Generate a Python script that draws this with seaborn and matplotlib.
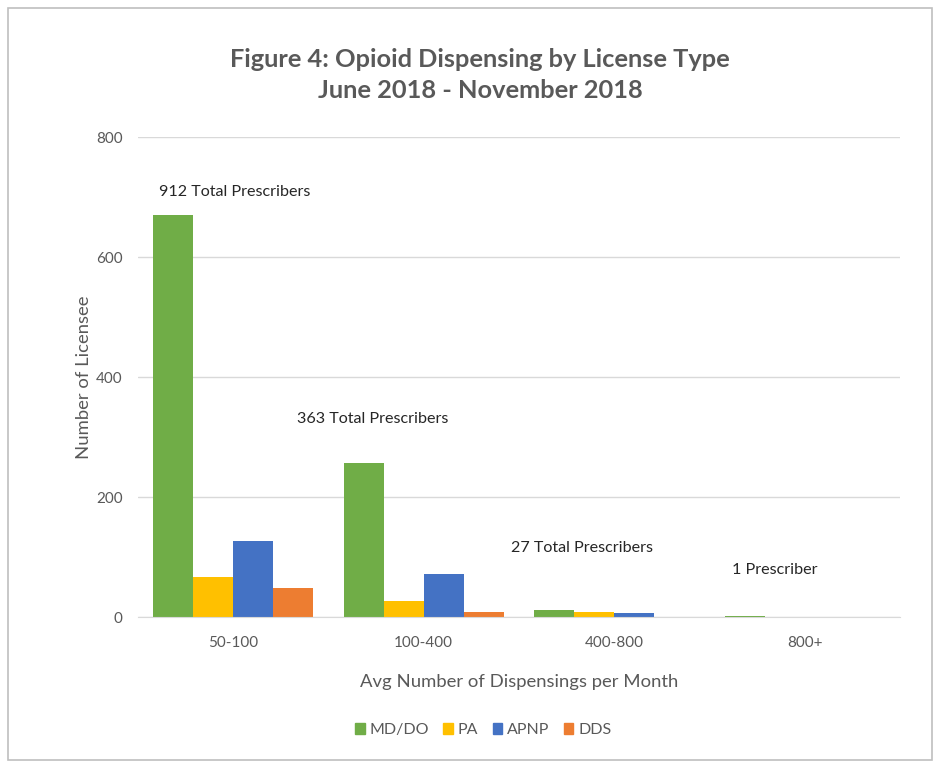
import pandas as pd
import matplotlib.pyplot as plt
import matplotlib.patches as mpatches
import seaborn as sns

# Values
dispensing_bins = ['50-100', '100-400', '400-800', '800+']
license_types = ['MD/DO', 'PA', 'APNP', 'DDS']
md_do = [670, 257, 12, 1]
pa = [67, 26, 9, 0]
apnp = [126, 71, 6, 0]
dds = [49, 9, 0, 0]
total_labels = ['912 Total Prescribers', '363 Total Prescribers',
                '27 Total Prescribers', '1 Prescriber']
label_heights = [709, 330, 115, 79]
label_offsets = [0.01, -0.27, -0.17, -0.16]

palette = ['#70AD47', '#FFC000', '#4472C4', '#ED7D31']
text_color = '#595959'

df = pd.DataFrame({
    'bin': dispensing_bins * 4,
    'license': [t for t in license_types for _ in dispensing_bins],
    'count': md_do + pa + apnp + dds,
})

sns.set_style('white')
plt.rcParams['font.family'] = ['Lato', 'DejaVu Sans']

fig = plt.figure(figsize=(9.38, 7.63), dpi=100)
ax = fig.add_axes([0.147, 0.1913, 0.8125, 0.6291])

sns.barplot(data=df, x='bin', y='count', hue='license', order=dispensing_bins,
            hue_order=license_types, palette=palette, width=0.84, gap=0,
            saturation=1, linewidth=0, ax=ax, legend=False)

ax.set_ylim(0, 800)
ax.set_xlim(-0.5, 3.5)
ax.set_yticks([0, 200, 400, 600, 800])
ax.yaxis.grid(True, color='#D9D9D9', linewidth=1)
ax.set_axisbelow(True)
for side in ['top', 'right', 'left']:
    ax.spines[side].set_visible(False)
ax.spines['bottom'].set_color('#D9D9D9')
ax.tick_params(axis='both', length=0, labelsize=11, colors=text_color)
ax.tick_params(axis='x', pad=14)
ax.tick_params(axis='y', pad=11)

ax.set_xlabel('Avg Number of Dispensings per Month', fontsize=13.3,
              color=text_color, labelpad=17)
ax.set_ylabel('Number of Licensee', fontsize=13.3, color=text_color, labelpad=3)

# total prescriber annotations
for i, (txt, h, off) in enumerate(zip(total_labels, label_heights, label_offsets)):
    ax.text(i + off, h, txt, fontsize=11.6, color='#262626',
            ha='center', va='center')

fig.text(0.512, 0.902, 'Figure 4: Opioid Dispensing by License Type\nJune 2018 - November 2018',
         ha='center', va='center', fontsize=18.3, fontweight='bold',
         color=text_color, linespacing=1.4)

handles = [mpatches.Patch(color=c, label=l) for c, l in zip(palette, license_types)]
fig.legend(handles=handles, loc='center', bbox_to_anchor=(0.515, 0.043), ncol=4,
           frameon=False, fontsize=11.5, handlelength=0.6, handleheight=0.6,
           handletextpad=0.3, columnspacing=0.9, labelcolor=text_color)

# outer chart frame
fig.patches.append(mpatches.Rectangle((0.009, 0.004), 0.985, 0.985,
                                      transform=fig.transFigure, fill=False,
                                      edgecolor='#BFBFBF', linewidth=1.2))

fig.savefig('out.png', dpi=100, facecolor='white')
